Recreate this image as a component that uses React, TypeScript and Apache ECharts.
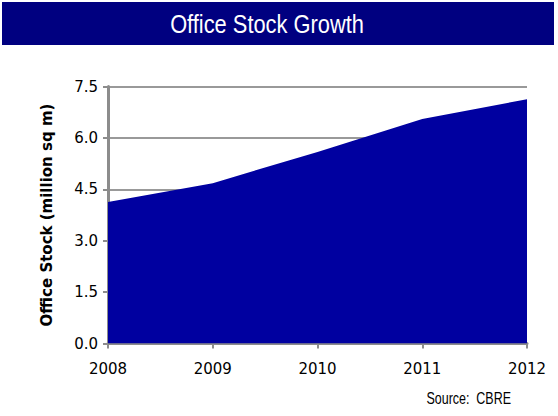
import React, { useEffect, useRef } from "react";
import * as echarts from "echarts";

const years = ["2008", "2009", "2010", "2011", "2012"];
const officeStock = [4.13, 4.68, 5.59, 6.55, 7.13];
const yTicks = { min: 0, max: 7.5, interval: 1.5 };
const titleText = "Office Stock Growth";
const yAxisName = "Office Stock (million sq m)";
const sourceText = "Source:  CBRE";

export default function App() {
  const ref = useRef<HTMLDivElement>(null);
  useEffect(() => {
    if (!ref.current) return;
    const chart = echarts.init(ref.current, null, { renderer: "svg" });
    chart.setOption({
      animation: false,
      backgroundColor: "#ffffff",
      graphic: [
        {
          type: "rect",
          shape: { x: 2, y: 2, width: 552, height: 43 },
          style: { fill: "#000080" },
        },
        {
          type: "text",
          x: 267,
          y: 24,
          scaleX: 0.84,
          style: {
            text: titleText,
            fill: "#ffffff",
            font: '26px "Liberation Sans", Arial, sans-serif',
            align: "center",
            verticalAlign: "middle",
          },
        },
        {
          type: "text",
          x: 511,
          y: 398,
          scaleX: 0.78,
          style: {
            text: sourceText,
            fill: "#000000",
            font: '16px "Liberation Sans", sans-serif',
            align: "right",
            verticalAlign: "middle",
          },
        },
      ],
      grid: { left: 108, right: 31, top: 86.5, bottom: 72.5, containLabel: false },
      xAxis: {
        type: "category",
        data: years,
        boundaryGap: false,
        axisLine: { lineStyle: { color: "#8c8c8c", width: 3 } },
        axisTick: { show: true, alignWithLabel: true, length: 5, lineStyle: { color: "#8c8c8c", width: 2 } },
        axisLabel: { color: "#000000", fontSize: 15, fontFamily: "DejaVu Sans", margin: 18 },
        splitLine: { show: false },
      },
      yAxis: {
        type: "value",
        min: yTicks.min,
        max: yTicks.max,
        interval: yTicks.interval,
        name: yAxisName,
        nameLocation: "middle",
        nameGap: 54,
        nameTextStyle: { color: "#000000", fontSize: 15, fontWeight: "bold", fontFamily: "DejaVu Sans" },
        axisLine: { show: true, lineStyle: { color: "#8c8c8c", width: 3 } },
        axisTick: { show: true, length: 5, lineStyle: { color: "#8c8c8c", width: 2 } },
        axisLabel: {
          color: "#000000",
          fontSize: 15,
          fontFamily: "DejaVu Sans",
          margin: 10,
          formatter: (v: number) => v.toFixed(1),
        },
        splitLine: { show: true, lineStyle: { color: "#999999", width: 2 } },
      },
      series: [
        {
          type: "line",
          data: officeStock,
          symbol: "none",
          lineStyle: { width: 0, color: "#0000a0" },
          areaStyle: { color: "#0000a0", opacity: 1 },
          z: 3,
        },
      ],
    });
    return () => chart.dispose();
  }, []);
  return <div ref={ref} style={{ width: 558, height: 416, position: "absolute", left: 0, top: 0 }} />;
}
